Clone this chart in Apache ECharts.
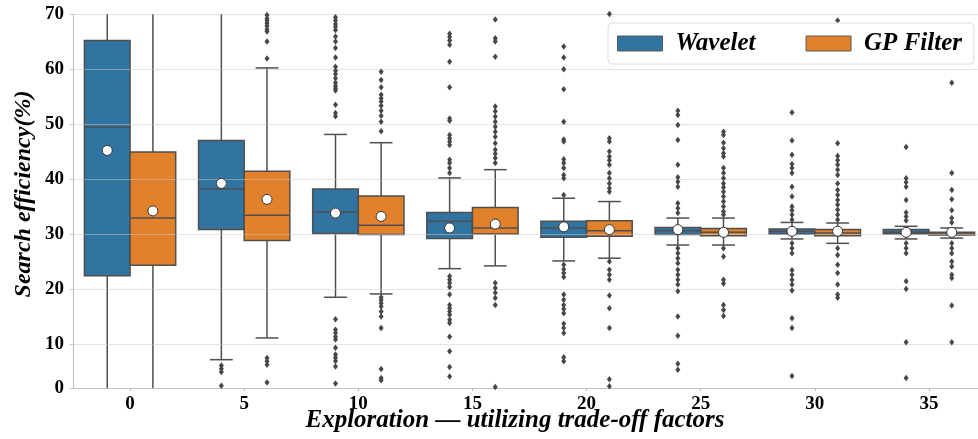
<!DOCTYPE html>
<html>
<head>
<meta charset="utf-8">
<script src="https://cdn.jsdelivr.net/npm/echarts@6/dist/echarts.min.js"></script>
<style>
html,body{margin:0;padding:0;background:#fff;}
#chart{width:978px;height:439px;}
</style>
</head>
<body>
<div id="chart"></div>
<script>
// ---------------- data ----------------
const categories = ['0', '5', '10', '15', '20', '25', '30', '35'];
const seriesNames = ['Wavelet', 'GP Filter'];
// y tick positions and their labels (bottom of the visible axis is labelled "0")
const yTickValues = [2, 10, 20, 30, 40, 50, 60, 70];
const yTickLabels = ['0', '10', '20', '30', '40', '50', '60', '70'];

// box statistics per category: [lower whisker, Q1, median, Q3, upper whisker]
const waveletBox = [
  [0, 22.4, 49.4, 65.2, 72],
  [7.15, 30.8, 38.2, 47.0, 72],
  [18.5, 30.1, 34.0, 38.2, 48.1],
  [23.7, 29.2, 32.3, 33.9, 40.2],
  [25.1, 29.4, 31.1, 32.3, 36.5],
  [28.0, 29.9, 30.6, 31.2, 32.9],
  [29.1, 30.0, 30.5, 30.9, 32.1],
  [29.1, 30.0, 30.3, 30.8, 31.4]
];
const gpBox = [
  [0, 24.3, 32.9, 44.9, 72],
  [11.1, 28.8, 33.4, 41.4, 60.2],
  [19.1, 29.9, 31.6, 36.9, 46.6],
  [24.2, 30.0, 31.1, 34.8, 41.7],
  [25.6, 29.6, 30.6, 32.4, 35.9],
  [28.0, 29.7, 30.3, 31.0, 32.9],
  [28.3, 29.7, 30.2, 30.8, 32.0],
  [29.25, 29.8, 30.0, 30.3, 31.1]
];
const waveletMean = [45.2, 39.2, 33.8, 31.1, 31.3, 30.8, 30.5, 30.3];
const gpMean = [34.2, 36.3, 33.2, 31.8, 30.8, 30.3, 30.5, 30.3];

const waveletOutliers = [
  [],
  [6.1, 5.5, 4.9, 2.4],
  [69.4, 68.8, 68.2, 67.7, 67.1, 65.9, 65.0, 63.8, 62.1, 60.4, 59.7, 59.1, 58.3, 57.5, 56.9, 56.5, 56.1, 53.5, 52.0, 51.4,
   14.5, 12.6, 12.0, 11.3, 10.8, 9.3, 8.1, 7.5, 6.9, 5.9, 2.8],
  [66.4, 65.8, 65.2, 64.4, 61.3, 56.7, 51.0, 50.6, 48.0, 47.4, 46.8, 46.2, 43.5, 42.9, 42.0, 41.1,
   22.3, 21.7, 21.1, 20.35, 19.0, 17.1, 16.5, 15.9, 15.3, 14.4, 13.8, 11.3, 8.7, 5.8, 4.1],
  [64.1, 62.1, 59.95, 56.3, 50.4, 47.2, 46.8, 43.6, 42.9, 42.0, 40.75, 40.15, 37.1,
   24.4, 23.6, 22.9, 22.2, 19.0, 18.05, 17.1, 16.35, 15.6, 13.7, 12.9, 12.0, 7.6, 6.85],
  [52.4, 51.65, 49.8, 47.1, 42.6, 40.3, 39.5, 38.6, 35.6, 34.7, 33.8,
   27.4, 26.5, 25.6, 24.7, 23.5, 22.6, 21.7, 20.8, 19.6, 15.0, 11.5, 6.4, 5.3],
  [52.1, 47.0, 44.4, 42.75, 42.0, 41.1, 38.6, 36.8, 35.0, 34.3, 33.5, 32.6,
   28.3, 27.4, 26.5, 23.4, 22.6, 21.7, 20.8, 19.75, 14.7, 12.9, 4.2],
  [45.8, 40.15, 39.4, 38.6, 36.2, 33.9, 33.2, 32.45,
   28.3, 27.4, 26.5, 21.4, 20.0, 10.3, 3.8]
];
const gpOutliers = [
  [],
  [69.8, 69.2, 68.8, 68.3, 67.8, 67.2, 66.8, 65.0, 61.9, 7.45, 6.85, 6.24, 3.0],
  [59.5, 58.0, 56.7, 55.3, 54.7, 54.1, 53.3, 52.4, 51.5, 50.4, 48.7,
   18.5, 18.0, 17.4, 16.8, 15.9, 15.0, 12.9, 5.45, 3.8, 3.4],
  [69.0, 65.6, 65.0, 62.25, 53.2, 52.3, 51.35, 50.4, 49.5, 48.6, 47.7, 46.5, 45.3, 44.6, 43.8, 42.9,
   21.1, 20.2, 19.3, 18.35, 17.1, 2.2],
  [70.0, 47.4, 46.8, 45.0, 44.1, 43.4, 42.6, 41.1, 40.15, 39.2, 38.3, 37.7,
   25.0, 23.5, 22.6, 21.7, 18.8, 16.5, 12.9, 3.6, 2.3],
  [48.6, 48.0, 46.6, 45.6, 44.7, 44.1, 42.0, 41.1, 40.15, 39.2, 38.5, 37.7, 36.8, 35.9, 35.0, 34.1, 33.5,
   27.4, 25.9, 21.7, 21.0, 17.1, 16.2, 15.1],
  [68.8, 46.5, 44.2, 43.4, 42.6, 41.7, 40.75, 39.2, 38.0, 37.1, 36.2, 35.3, 34.4, 33.5, 32.6,
   27.4, 26.2, 24.4, 22.9, 20.8, 19.0, 18.4],
  [57.5, 41.1, 38.0, 36.3, 34.3, 32.9, 32.1,
   28.3, 27.4, 26.5, 25.0, 24.1, 22.6, 22.0, 17.0, 10.3]
];

// ---------------- styling ----------------
const COLORS = ['#3274a1', '#e1812c'];
const EDGE = '#4f4f4f';
const OFFSETS = [-0.2, 0.2];
const HALF = 0.2;
const FONT = '"Liberation Serif", "Times New Roman", serif';

function boxData(stats, off) {
  return stats.map((s, i) => [i + off].concat(s));
}
function pointData(values, off) {
  return values.map((v, i) => [i + off, v]);
}
function outlierData(groups, off) {
  const out = [];
  groups.forEach((g, i) => g.forEach(v => out.push([i + off, v])));
  return out;
}

function renderBox(params, api) {
  const x = api.value(0);
  const low = api.value(1), q1 = api.value(2), med = api.value(3), q3 = api.value(4), high = api.value(5);
  const cs = params.coordSys;
  const top = cs.y, bottom = cs.y + cs.height;
  const halfW = api.size([HALF, 0])[0];
  const cx = api.coord([x, med])[0];
  const py = v => api.coord([x, v])[1];
  const clampY = y => Math.min(bottom, Math.max(top, y));
  const yLow = py(low), yHigh = py(high), yQ1 = py(q1), yQ3 = py(q3), yMed = py(med);
  const ls = { stroke: EDGE, lineWidth: 1.5 };
  const color = api.visual('color');
  const children = [
    { type: 'line', shape: { x1: cx, y1: yQ1, x2: cx, y2: clampY(yLow) }, style: ls },
    { type: 'line', shape: { x1: cx, y1: yQ3, x2: cx, y2: clampY(yHigh) }, style: ls }
  ];
  if (yLow >= top && yLow <= bottom) {
    children.push({ type: 'line', shape: { x1: cx - halfW / 2, y1: yLow, x2: cx + halfW / 2, y2: yLow }, style: ls });
  }
  if (yHigh >= top && yHigh <= bottom) {
    children.push({ type: 'line', shape: { x1: cx - halfW / 2, y1: yHigh, x2: cx + halfW / 2, y2: yHigh }, style: ls });
  }
  children.push({ type: 'rect', shape: { x: cx - halfW, y: yQ3, width: 2 * halfW, height: yQ1 - yQ3 },
                  style: { fill: color, stroke: EDGE, lineWidth: 1.5 } });
  children.push({ type: 'line', shape: { x1: cx - halfW, y1: yMed, x2: cx + halfW, y2: yMed }, style: ls });
  return { type: 'group', children: children };
}

const chart = echarts.init(document.getElementById('chart'), null, { renderer: 'canvas' });

const boxSeries = [waveletBox, gpBox].map((stats, k) => ({
  name: seriesNames[k],
  type: 'custom',
  xAxisIndex: 1,
  yAxisIndex: 0,
  z: 2,
  clip: true,
  itemStyle: { color: COLORS[k], borderColor: EDGE, borderWidth: 1 },
  encode: { x: 0, y: [1, 2, 3, 4, 5] },
  renderItem: renderBox,
  data: boxData(stats, OFFSETS[k])
}));

const outlierSeries = [waveletOutliers, gpOutliers].map((g, k) => ({
  name: seriesNames[k] + ' outliers',
  type: 'scatter',
  xAxisIndex: 1,
  yAxisIndex: 0,
  z: 4,
  symbol: 'diamond',
  symbolSize: [5, 6.5],
  itemStyle: { color: '#474747', opacity: 1 },
  silent: true,
  data: outlierData(g, OFFSETS[k])
}));

const meanSeries = [waveletMean, gpMean].map((m, k) => ({
  name: seriesNames[k] + ' mean',
  type: 'scatter',
  xAxisIndex: 1,
  yAxisIndex: 0,
  z: 5,
  symbol: 'circle',
  symbolSize: 10,
  itemStyle: { color: '#ffffff', borderColor: '#333333', borderWidth: 1, opacity: 1 },
  silent: true,
  data: pointData(m, OFFSETS[k])
}));

chart.setOption({
  animation: false,
  backgroundColor: '#ffffff',
  grid: { left: 73, right: -8, top: 14, bottom: 51, containLabel: false, outerBoundsMode: 'none' },
  legend: {
    left: 608, top: 23, z: 10,
    padding: [8, 12, 8, 9],
    itemWidth: 45, itemHeight: 15, itemGap: 50,
    backgroundColor: 'rgba(255,255,255,0.85)',
    borderColor: '#dcdcdc', borderWidth: 1, borderRadius: 4,
    textStyle: { fontFamily: FONT, fontSize: 25, fontWeight: 'bold', fontStyle: 'italic', color: '#000', padding: [0, 0, 0, 8] },
    data: [
      { name: 'Wavelet', icon: 'rect', itemStyle: { color: COLORS[0], borderColor: '#5a5a5a', borderWidth: 1 } },
      { name: 'GP Filter', icon: 'rect', itemStyle: { color: COLORS[1], borderColor: '#5a5a5a', borderWidth: 1 } }
    ]
  },
  xAxis: [
    {
      type: 'category',
      data: categories,
      boundaryGap: true,
      axisLine: { show: true, lineStyle: { color: '#b8b8b8', width: 1.2 } },
      axisTick: { show: true, alignWithLabel: true, length: 3, lineStyle: { color: '#b8b8b8' } },
      axisLabel: { fontFamily: FONT, fontSize: 19, fontWeight: 'bold', color: '#000', margin: 7 },
      splitLine: { show: false }
    },
    {
      type: 'value',
      min: -0.5, max: 7.5,
      show: false,
      splitLine: { show: false }
    }
  ],
  yAxis: {
    type: 'value',
    min: 2, max: 70,
    z: 3,
    axisLine: { show: true, onZero: false, lineStyle: { color: '#c4c4c4', width: 1.2 } },
    axisTick: { show: true, length: 3, customValues: yTickValues, lineStyle: { color: '#c4c4c4' } },
    axisLabel: {
      customValues: yTickValues,
      fontFamily: FONT, fontSize: 19, fontWeight: 'bold', color: '#000', margin: 9,
      formatter: v => { const i = yTickValues.indexOf(v); return i >= 0 ? yTickLabels[i] : ''; }
    },
    splitLine: { show: true, lineStyle: { color: 'rgba(200,200,200,0.5)', width: 1.2 } }
  },
  graphic: [
    {
      type: 'text', x: 24, y: 194, rotation: Math.PI / 2,
      style: { text: 'Search efficiency(%)', font: 'italic bold 24px ' + FONT, fill: '#000',
               textAlign: 'center', textVerticalAlign: 'middle' }
    },
    {
      type: 'text', x: 515, y: 421,
      style: { text: 'Exploration \u2014 utilizing trade-off factors', font: 'italic bold 25px ' + FONT, fill: '#000',
               textAlign: 'center', textVerticalAlign: 'middle' }
    }
  ],
  series: boxSeries.concat(outlierSeries, meanSeries)
});
</script>
</body>
</html>
